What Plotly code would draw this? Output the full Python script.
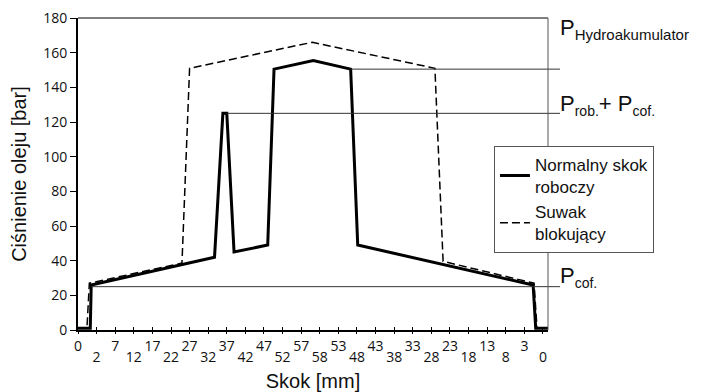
import plotly.graph_objects as go

# ---- data ----
tick_labels = ["0", "2", "7", "12", "17", "22", "27", "32", "37", "42", "47", "52", "57",
               "58", "53", "48", "43", "38", "33", "28", "23", "18", "13", "8", "3", "0"]
tick_pos = list(range(len(tick_labels)))

normal_x = [0, 0.66, 0.71, 7.34, 7.79, 8.0, 8.39, 10.2, 10.54, 12.65, 14.66, 15.04, 24.47, 24.61, 25.27]
normal_y = [1, 1, 26, 42, 125, 125, 45, 49, 150.5, 155.5, 150.5, 49, 26, 1, 1]

block_x = [0, 0.48, 0.61, 5.59, 6.0, 12.6, 19.19, 19.63, 24.52, 24.68, 25.27]
block_y = [1, 1, 27, 38.6, 151, 166, 151, 39.6, 27, 1, 1]

ref_levels = [150.5, 125, 25]
ref_start_x = [normal_x[10], normal_x[5], normal_x[2]]
ref_labels = ["P<sub><span style='font-size:15px'>Hydroakumulator</span></sub>",
              "P<sub><span style='font-size:14px'>rob.</span></sub>+ P<sub><span style='font-size:14px'>cof.</span></sub>",
              "P<sub><span style='font-size:14px'>cof.</span></sub>"]

XMAX = 25.27
YMAX = 180

TICKFONT = dict(family="Open Sans", size=14, color="#111")
TXTFONT = "Liberation Sans"

even_pos = [p for p in tick_pos if p % 2 == 0]
even_text = [tick_labels[p] for p in even_pos]
odd_pos = [p for p in tick_pos if p % 2 == 1]
odd_text = [tick_labels[p] for p in odd_pos]

fig = go.Figure()
fig.add_trace(go.Scatter(x=normal_x, y=normal_y, mode="lines",
                         name="Normalny skok<br>roboczy",
                         line=dict(color="black", width=3)))
fig.add_trace(go.Scatter(x=block_x, y=block_y, mode="lines",
                         name="Suwak<br>blokujący",
                         line=dict(color="black", width=1.5, dash="8px,4px")))
# invisible helper traces so the extra tick axes get drawn
for ax in ["x2", "x3", "x4"]:
    fig.add_trace(go.Scatter(x=[None], y=[None], xaxis=ax, showlegend=False, hoverinfo="skip"))

shapes = []
for lvl, xs in zip(ref_levels, ref_start_x):
    shapes.append(dict(type="line", xref="paper", yref="y", x0=xs / XMAX, x1=1.0255,
                       y0=lvl, y1=lvl, line=dict(color="#333", width=1)))
# frame: top and right
shapes.append(dict(type="line", xref="paper", yref="paper", x0=0, x1=1, y0=1, y1=1,
                   line=dict(color="black", width=1)))
shapes.append(dict(type="line", xref="paper", yref="paper", x0=1, x1=1, y0=0, y1=1,
                   line=dict(color="#555", width=1)))

ann_y = [0.965, 0.72, 0.17]
annotations = []
for lab, yy in zip(ref_labels, ann_y):
    annotations.append(dict(text=lab, xref="paper", yref="paper", x=1.021, y=yy,
                            xanchor="left", yanchor="middle", showarrow=False,
                            font=dict(family=TXTFONT, size=22, color="#111")))

common_x = dict(range=[0, XMAX], tickmode="array", showgrid=False, zeroline=False,
                automargin=False, tickwidth=1, tickcolor="black")

fig.update_layout(
    width=704, height=392,
    margin=dict(l=78, r=156, t=18, b=62),
    paper_bgcolor="white", plot_bgcolor="white",
    showlegend=True,
    legend=dict(x=0.885, y=0.59, xanchor="left", yanchor="top",
                bgcolor="white", bordercolor="#555", borderwidth=1,
                font=dict(family=TXTFONT, size=17, color="#111"),
                itemwidth=30, tracegroupgap=0),
    xaxis=dict(**common_x, tickvals=even_pos, ticktext=even_text,
               ticks="outside", ticklen=2,
               showline=True, linecolor="black", linewidth=2,
               tickfont=TICKFONT, ticklabeloverflow="allow",
               title=dict(text="Skok [mm]", font=dict(family=TXTFONT, size=20, color="#111"),
                          standoff=27)),
    xaxis2=dict(**{k: v for k, v in common_x.items() if k != "tickcolor"},
                overlaying="x", anchor="y", side="bottom",
                tickvals=odd_pos, ticktext=odd_text, ticklabeloverflow="allow",
                ticks="outside", ticklen=14, tickcolor="rgba(0,0,0,0)",
                showline=False, tickfont=TICKFONT),
    xaxis3=dict(**common_x, overlaying="x", anchor="y", side="bottom",
                tickvals=tick_pos, ticks="inside", ticklen=3,
                showline=False, showticklabels=False),
    xaxis4=dict(**common_x, overlaying="x", anchor="y", side="bottom",
                tickvals=tick_pos, ticks="outside", ticklen=3,
                showline=False, showticklabels=False),
    yaxis=dict(range=[0, YMAX], tickmode="array", tickvals=list(range(0, 181, 20)),
               ticks="outside", ticklen=6, tickwidth=1, tickcolor="black",
               showline=True, linecolor="black", linewidth=2, showgrid=False, zeroline=False,
               automargin=False, tickfont=TICKFONT, ticklabeloverflow="allow",
               title=dict(text="Ciśnienie oleju [bar]",
                          font=dict(family=TXTFONT, size=20, color="#111"), standoff=11)),
    shapes=shapes,
    annotations=annotations,
)

fig.write_html("out.html", post_script="document.body.style.margin='0';",
               config={"displayModeBar": False})
